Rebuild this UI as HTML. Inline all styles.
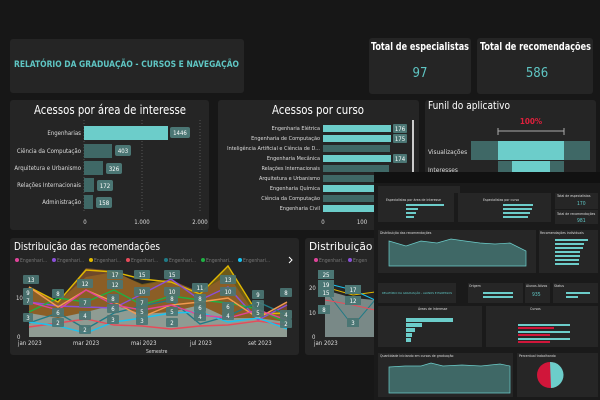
<!DOCTYPE html>
<html><head><meta charset="utf-8"><style>
*{margin:0;padding:0;box-sizing:border-box}
body{width:600px;height:400px;background:#171717;position:relative;overflow:hidden;font-family:"DejaVu Sans Condensed","Liberation Sans",sans-serif;color:#fff}
.p{position:absolute;background:#252525;border-radius:3px}
</style></head><body>
<div class="p" style="left:10px;top:39px;width:234px;height:54px"></div>
<div class="p" style="left:369px;top:38px;width:102px;height:56px"></div>
<div class="p" style="left:477px;top:38px;width:116px;height:56px"></div>
<div class="p" style="left:10px;top:100px;width:199px;height:130px"></div>
<div class="p" style="left:218px;top:100px;width:201px;height:130px"></div>
<div class="p" style="left:425px;top:100px;width:171px;height:75px"></div>
<div class="p" style="left:10px;top:238px;width:289px;height:117px"></div>
<div class="p" style="left:305px;top:238px;width:80px;height:117px"></div>

<svg width="600" height="400" style="position:absolute;left:0;top:0" font-family="DejaVu Sans Condensed, Liberation Sans, sans-serif">
<text x="14" y="67" font-size="8.5" fill="#5fc6c4" font-weight="bold" textLength="225" lengthAdjust="spacingAndGlyphs">RELATÓRIO DA GRADUAÇÃO - CURSOS E NAVEGAÇÃO</text>
<text x="371" y="50" font-size="11" fill="#fff" font-weight="bold" textLength="98" lengthAdjust="spacingAndGlyphs">Total de especialistas</text>
<text x="420" y="77" font-size="13" fill="#5fc6c4" text-anchor="middle">97</text>
<text x="480" y="50" font-size="11" fill="#fff" font-weight="bold" textLength="111" lengthAdjust="spacingAndGlyphs">Total de recomendações</text>
<text x="537" y="77" font-size="13" fill="#5fc6c4" text-anchor="middle">586</text>

<text x="34" y="114" font-size="12" fill="#fff" textLength="152" lengthAdjust="spacingAndGlyphs">Acessos por área de interesse</text>
<g stroke="#555" stroke-dasharray="1,2"><line x1="84" y1="120" x2="84" y2="212"/><line x1="142" y1="120" x2="142" y2="212"/><line x1="200" y1="120" x2="200" y2="212"/></g>
<g font-size="6" fill="#ddd" text-anchor="end">
<text x="81" y="135">Engenharias</text><text x="81" y="153">Ciência da Computação</text><text x="81" y="170">Arquitetura e Urbanismo</text><text x="81" y="187">Relações Internacionais</text><text x="81" y="204">Administração</text></g>
<rect x="84" y="126" width="84" height="14" fill="#6ccdca"/>
<rect x="84" y="144" width="28" height="14" fill="#3f6866"/>
<rect x="84" y="161" width="19" height="14" fill="#3f6866"/>
<rect x="84" y="178" width="10" height="14" fill="#3f6866"/>
<rect x="84" y="195" width="9" height="14" fill="#3f6866"/>
<g fill="#4b7674"><rect x="170" y="127" width="20" height="11" rx="2"/><rect x="115" y="145" width="16" height="11" rx="2"/><rect x="106" y="163" width="16" height="11" rx="2"/><rect x="97" y="180" width="16" height="11" rx="2"/><rect x="96" y="197" width="16" height="11" rx="2"/></g>
<g font-size="6" fill="#fff" text-anchor="middle"><text x="180" y="135">1446</text><text x="123" y="153">403</text><text x="114" y="171">326</text><text x="105" y="188">172</text><text x="104" y="205">158</text></g>
<g font-size="6" fill="#ddd" text-anchor="middle"><text x="85" y="224">0</text><text x="142" y="224">1.000</text><text x="200" y="224">2.000</text></g>

<text x="272" y="114" font-size="12" fill="#fff" textLength="92" lengthAdjust="spacingAndGlyphs">Acessos por curso</text>
<g font-size="5.5" fill="#ddd" text-anchor="end">
<text x="320" y="130">Engenharia Elétrica</text><text x="320" y="140">Engenharia de Computação</text><text x="320" y="150">Inteligência Artificial e Ciência de D...</text><text x="320" y="160">Engenharia Mecânica</text><text x="320" y="170">Relações Internacionais</text><text x="320" y="180">Arquitetura e Urbanismo</text><text x="320" y="190">Engenharia Química</text><text x="320" y="200">Ciência da Computação</text><text x="320" y="210">Engenharia Civil</text></g>
<g fill="#6ccdca"><rect x="323" y="125" width="68" height="7"/><rect x="323" y="135" width="68" height="7"/><rect x="323" y="155" width="68" height="7"/><rect x="323" y="185" width="52" height="7"/><rect x="323" y="205" width="52" height="7"/></g>
<g fill="#3f6866"><rect x="323" y="145" width="67" height="7"/><rect x="323" y="165" width="66" height="7"/><rect x="323" y="175" width="52" height="7"/><rect x="323" y="195" width="52" height="7"/></g>
<g fill="#4b7674"><rect x="393" y="124" width="14" height="9" rx="1"/><rect x="393" y="134" width="14" height="9" rx="1"/><rect x="393" y="154" width="14" height="9" rx="1"/></g>
<g font-size="6" fill="#fff" text-anchor="middle"><text x="400" y="131">176</text><text x="400" y="141">175</text><text x="400" y="161">174</text></g>
<rect x="412" y="120" width="2" height="60" fill="#ccc"/>
<g font-size="6" fill="#ddd" text-anchor="middle"><text x="323" y="224">0</text><text x="362" y="224">100</text></g>

<text x="428" y="109" font-size="11" fill="#fff" textLength="82" lengthAdjust="spacingAndGlyphs">Funil do aplicativo</text>
<text x="531" y="124" font-size="8" fill="#e0203c" font-weight="bold" text-anchor="middle">100%</text>
<path d="M498 128v7M498 131h66M564 128v7" stroke="#aaa" fill="none"/>
<rect x="471" y="141" width="119" height="19" fill="#3f6866"/><rect x="498" y="141" width="66" height="19" fill="#6ccdca"/>
<rect x="498" y="161" width="66" height="12" fill="#3f6866"/><rect x="512" y="161" width="38" height="12" fill="#6ccdca"/>
<text x="428" y="154" font-size="6.5" fill="#ddd">Visualizações</text>
<text x="428" y="172" font-size="6.5" fill="#ddd">Interesses</text>

<text x="14" y="250" font-size="11" fill="#fff" textLength="146" lengthAdjust="spacingAndGlyphs">Distribuição das recomendações</text>
<g font-size="5" fill="#777">
<circle cx="17" cy="260" r="2" fill="#e0449a"/><text x="20" y="262">Engenhari...</text>
<circle cx="54" cy="260" r="2" fill="#8a4fd8"/><text x="57" y="262">Engenhari...</text>
<circle cx="91" cy="260" r="2" fill="#e0b800"/><text x="94" y="262">Engenhari...</text>
<circle cx="128" cy="260" r="2" fill="#e84b5a"/><text x="131" y="262">Engenhari...</text>
<circle cx="166" cy="260" r="2" fill="#1f7a86"/><text x="169" y="262">Engenhari...</text>
<circle cx="203" cy="260" r="2" fill="#1fb043"/><text x="206" y="262">Engenhari...</text>
<circle cx="240" cy="260" r="2" fill="#1ac3f0"/><text x="243" y="262">Engenhari...</text></g>
<path d="M289 257l3 3-3 3" stroke="#fff" fill="none"/>
<path d="M29 287L58 302L86 277L114 272L142 284L171 279L200 295L228 265L258 315L287 313L287 337L29 337Z" fill="#7a6418" opacity=".85"/>
<path d="M29 287L58 302L86 268L114 271L142 285L171 280L200 292L228 275L258 318L287 302L287 337L29 337Z" fill="#a0602e" opacity=".6"/>
<path d="M29 313L58 318L86 312L114 305L142 314L171 312L200 305L228 318L258 318L287 322L287 337L29 337Z" fill="#8fa3a0" opacity=".9"/>
<g fill="none" stroke-width="1.4">
<polyline points="29,287 58,302 86,270 114,272 142,279 171,282 200,294 228,266 258,314 287,313" stroke="#e0b800"/>
<polyline points="29,302 58,306 86,307 114,308 142,294 171,279 200,300 228,287 258,320 287,305" stroke="#8a4fd8"/>
<polyline points="29,312 58,298 86,302 114,290 142,305 171,296 200,300 228,303 258,309 287,323" stroke="#1fb043"/>
<polyline points="29,323 58,313 86,329 114,313 142,306 171,300 200,324 228,316 258,302 287,315" stroke="#1f7a86"/>
<polyline points="29,287 58,307 86,290 114,302 142,317 171,305 200,302 228,298 258,318 287,302" stroke="#f39a50"/>
<polyline points="29,327 58,323 86,319 114,325 142,326 171,329 200,326 228,325 258,321 287,325" stroke="#e84b5a"/>
<polyline points="29,322 58,326 86,333 114,322 142,318 171,313 200,312 228,322 258,318 287,329" stroke="#1ac3f0"/>
<polyline points="29,302 58,310 86,290 114,305 142,310 171,305 200,315 228,318 258,310 287,320" stroke="#e0449a"/>
</g>
<g fill="#4b7674" opacity=".9">
<rect x="23" y="275" width="16" height="9" rx="1"/><rect x="23" y="288" width="10" height="9" rx="1"/><rect x="23" y="296" width="10" height="9" rx="1"/><rect x="23" y="313" width="10" height="9" rx="1"/>
<rect x="52" y="289" width="12" height="9" rx="1"/><rect x="52" y="308" width="12" height="9" rx="1"/><rect x="52" y="318" width="12" height="9" rx="1"/>
<rect x="77" y="279" width="16" height="9" rx="1"/><rect x="79" y="298" width="12" height="9" rx="1"/><rect x="79" y="311" width="12" height="9" rx="1"/><rect x="79" y="325" width="12" height="9" rx="1"/>
<rect x="107" y="270" width="16" height="9" rx="1"/><rect x="107" y="280" width="16" height="9" rx="1"/><rect x="107" y="294" width="12" height="9" rx="1"/><rect x="107" y="304" width="12" height="9" rx="1"/><rect x="107" y="315" width="12" height="9" rx="1"/>
<rect x="134" y="270" width="16" height="9" rx="1"/><rect x="134" y="287" width="16" height="9" rx="1"/><rect x="136" y="298" width="12" height="9" rx="1"/><rect x="136" y="307" width="12" height="9" rx="1"/><rect x="136" y="316" width="12" height="9" rx="1"/>
<rect x="164" y="270" width="16" height="9" rx="1"/><rect x="164" y="287" width="16" height="9" rx="1"/><rect x="166" y="294" width="12" height="9" rx="1"/><rect x="166" y="307" width="12" height="9" rx="1"/><rect x="166" y="318" width="12" height="9" rx="1"/>
<rect x="192" y="283" width="16" height="9" rx="1"/><rect x="194" y="294" width="12" height="9" rx="1"/><rect x="194" y="303" width="12" height="9" rx="1"/><rect x="194" y="312" width="12" height="9" rx="1"/>
<rect x="220" y="275" width="16" height="9" rx="1"/><rect x="220" y="287" width="16" height="9" rx="1"/><rect x="222" y="302" width="12" height="9" rx="1"/><rect x="222" y="311" width="12" height="9" rx="1"/>
<rect x="252" y="290" width="12" height="9" rx="1"/><rect x="252" y="300" width="12" height="9" rx="1"/><rect x="252" y="308" width="12" height="9" rx="1"/>
<rect x="280" y="288" width="12" height="9" rx="1"/><rect x="280" y="310" width="12" height="9" rx="1"/><rect x="280" y="319" width="12" height="9" rx="1"/></g>
<g font-size="6" fill="#fff" text-anchor="middle">
<text x="31" y="282">13</text><text x="28" y="295">9</text><text x="28" y="303">7</text><text x="28" y="320">3</text>
<text x="58" y="296">8</text><text x="58" y="315">6</text><text x="58" y="325">2</text>
<text x="85" y="286">12</text><text x="85" y="305">7</text><text x="85" y="318">4</text><text x="85" y="332">2</text>
<text x="115" y="277">17</text><text x="115" y="287">12</text><text x="113" y="301">8</text><text x="113" y="311">6</text><text x="113" y="322">3</text>
<text x="142" y="277">15</text><text x="142" y="294">10</text><text x="142" y="305">7</text><text x="142" y="314">5</text><text x="142" y="323">3</text>
<text x="172" y="277">15</text><text x="172" y="294">10</text><text x="172" y="301">8</text><text x="172" y="314">5</text><text x="172" y="325">2</text>
<text x="200" y="290">11</text><text x="200" y="301">8</text><text x="200" y="310">6</text><text x="200" y="319">4</text>
<text x="228" y="282">13</text><text x="228" y="294">10</text><text x="228" y="309">6</text><text x="228" y="318">4</text>
<text x="258" y="297">9</text><text x="258" y="307">7</text><text x="258" y="315">5</text>
<text x="286" y="295">8</text><text x="286" y="317">4</text><text x="286" y="326">2</text></g>
<g font-size="6" fill="#ddd"><text x="16" y="300">10</text><text x="17" y="339">0</text>
<text x="18" y="345">jan 2023</text><text x="73" y="345">mar 2023</text><text x="131" y="345">mai 2023</text><text x="190" y="345">jul 2023</text><text x="248" y="345">set 2023</text>
<text x="146" y="353" font-size="5">Semestre</text></g>

<text x="309" y="250" font-size="11" fill="#fff" textLength="80" lengthAdjust="spacingAndGlyphs">Distribuição do</text>
<circle cx="316" cy="260" r="2" fill="#e0449a"/><text x="319" y="262" font-size="5" fill="#777">Engenhari...</text>
<circle cx="350" cy="260" r="2" fill="#8a4fd8"/><text x="353" y="262" font-size="5" fill="#777">Engen</text>
<path d="M325 290L353 298L375 300L375 337L325 337Z" fill="#8fa3a0" opacity=".8"/>
<polyline points="325,287 353,295 375,292" stroke="#e0b800" fill="none"/>
<polyline points="325,283 353,290 375,300" stroke="#1ac3f0" fill="none"/>
<polyline points="325,290 353,326 375,300" stroke="#1f7a86" fill="none"/>
<polyline points="325,300 353,305 375,310" stroke="#e84b5a" fill="none"/>
<g fill="#4b7674"><rect x="318" y="270" width="16" height="9"/><rect x="318" y="280" width="16" height="9"/><rect x="318" y="288" width="16" height="9"/><rect x="318" y="305" width="12" height="9"/><rect x="345" y="285" width="16" height="9"/><rect x="345" y="296" width="16" height="9"/><rect x="347" y="318" width="12" height="9"/></g>
<g font-size="6" fill="#fff" text-anchor="middle"><text x="326" y="277">25</text><text x="326" y="287">19</text><text x="326" y="295">15</text><text x="324" y="312">8</text><text x="353" y="292">17</text><text x="353" y="303">12</text><text x="353" y="325">3</text></g>
<g font-size="6" fill="#ddd"><text x="309" y="290">20</text><text x="309" y="315">10</text><text x="312" y="339">0</text><text x="314" y="345">jan 2023</text></g>

<rect x="374" y="172" width="226" height="228" fill="#1a1a1a"/>
<rect x="374" y="172" width="226" height="11" fill="#111"/>
<g fill="#262626">
<rect x="378" y="186" width="82" height="7"/>
<rect x="378" y="193" width="76" height="29"/><rect x="458" y="193" width="93" height="29"/>
<rect x="555" y="193" width="43" height="16"/><rect x="555" y="210" width="43" height="14"/>
<rect x="378" y="230" width="158" height="43"/><rect x="539" y="230" width="59" height="43"/>
<rect x="378" y="283" width="78" height="20"/><rect x="468" y="283" width="55" height="20"/><rect x="525" y="283" width="25" height="20"/><rect x="553" y="283" width="45" height="20"/>
<rect x="378" y="306" width="104" height="41"/><rect x="486" y="306" width="112" height="41"/>
<rect x="378" y="353" width="135" height="44"/><rect x="517" y="353" width="81" height="44"/></g>
<g font-size="3.5" fill="#ddd">
<text x="386" y="201">Especialistas por área de interesse</text><text x="483" y="201">Especialistas por curso</text>
<text x="557" y="197">Total de especialistas</text><text x="557" y="215">Total de recomendações</text>
<text x="380" y="234">Distribuição das recomendações</text><text x="540" y="234">Recomendações individuais</text>
<text x="469" y="287">Origem</text><text x="526" y="287">Alunos Ativos</text><text x="554" y="287">Status</text>
<text x="418" y="310">Áreas de Interesse</text><text x="530" y="310">Cursos</text>
<text x="380" y="357">Quantidade iniciando em cursos de graduação</text><text x="519" y="357">Percentual trabalhando</text></g>
<text x="382" y="294" font-size="3" fill="#5fc6c4">RELATÓRIO DA GRADUAÇÃO - ALUNOS E EGRESSOS</text>
<g font-size="5" fill="#5fc6c4"><text x="577" y="205">170</text><text x="577" y="222">981</text><text x="532" y="296">935</text></g>
<g fill="#6ccdca">
<rect x="406" y="204" width="38" height="2"/><rect x="406" y="208" width="12" height="2"/><rect x="406" y="212" width="10" height="2"/><rect x="406" y="216" width="8" height="2"/>
<rect x="503" y="204" width="30" height="2"/><rect x="503" y="208" width="29" height="2"/><rect x="503" y="212" width="27" height="2"/><rect x="503" y="216" width="25" height="2"/>
<rect x="555" y="239" width="33" height="2"/><rect x="555" y="243" width="29" height="2"/><rect x="555" y="247" width="28" height="2"/><rect x="555" y="251" width="25" height="2"/><rect x="555" y="255" width="25" height="2"/><rect x="555" y="259" width="24" height="2"/><rect x="555" y="263" width="24" height="2"/>
<rect x="483" y="292" width="30" height="2"/><rect x="483" y="296" width="30" height="2"/><rect x="566" y="292" width="24" height="2"/><rect x="566" y="296" width="12" height="2"/>
<rect x="406" y="318" width="47" height="4"/><rect x="406" y="323" width="16" height="4"/><rect x="406" y="328" width="9" height="4"/><rect x="406" y="333" width="6" height="4"/><rect x="406" y="338" width="5" height="4"/>
<rect x="518" y="324" width="52" height="2"/><rect x="518" y="331" width="52" height="2"/><rect x="518" y="338" width="52" height="2"/></g>
<g fill="#d0163a"><rect x="518" y="327" width="36" height="2"/><rect x="518" y="334" width="32" height="2"/><rect x="518" y="341" width="32" height="2"/></g>
<path d="M389 241L406 246L421 241L437 243L451 239L465 241L480 243L495 244L510 243L526 251L526 266L389 266Z" fill="#3f6866" stroke="#6ccdca" stroke-width=".7"/>
<path d="M389 367L405 366L421 366L431 363L443 366L462 365L481 366L500 364L510 366L510 393L389 393Z" fill="#3f6866" stroke="#6ccdca" stroke-width=".7"/>
<circle cx="550" cy="375" r="13" fill="#d0163a"/><path d="M550 362A13 13 0 0 1 551 388Z" fill="#6ccdca"/>
</svg>
</body></html>
